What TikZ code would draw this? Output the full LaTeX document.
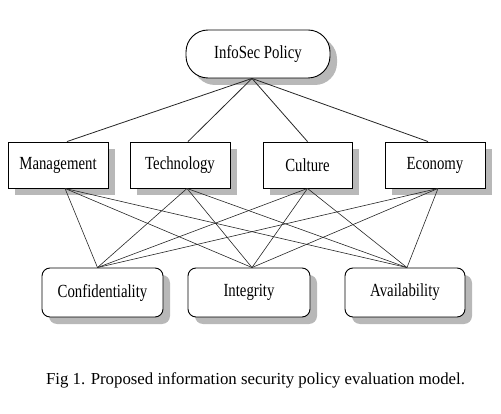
\documentclass[tikz,border=0pt]{standalone}
\usepackage{fontspec}
\setmainfont{Liberation Serif}
\newfontfamily\boxfont[FakeStretch=0.8]{Liberation Serif}
\usetikzlibrary{shadows}

\tikzset{
	box/.style={draw, line width=0.9pt, fill=white, inner sep=0pt,
		font=\boxfont\fontsize{18.5}{20}\selectfont,
		drop shadow={shadow xshift=7pt, shadow yshift=-7pt, fill=black!28, opacity=1}},
	link/.style={line width=0.6pt, draw=black!85}
}

\begin{document}
\begin{tikzpicture}[x=1pt,y=-1pt]
\useasboundingbox (0,0) rectangle (501,414);

% top
\node[box, rounded corners=22pt, minimum width=144pt, minimum height=48pt] (policy) at (258,54) {InfoSec Policy};

% middle row
\node[box, minimum width=100pt, minimum height=46pt] (mgmt) at (58,165) {Management};
\node[box, minimum width=100pt, minimum height=46pt] (tech) at (180,165) {Technology};
\node[box, minimum width=89pt, minimum height=46pt] (cult) at (307.5,165) {Culture};
\node[box, minimum width=100pt, minimum height=46pt] (econ) at (435,165) {Economy};

% bottom row
\node[box, rounded corners=8pt, minimum width=121pt, minimum height=49pt] (conf) at (102.5,292.5) {Confidentiality};
\node[box, rounded corners=8pt, minimum width=122pt, minimum height=49pt] (integ) at (249,292.5) {Integrity};
\node[box, rounded corners=8pt, minimum width=120pt, minimum height=49pt] (avail) at (405,292.5) {Availability};

\foreach \m/\dt in {mgmt/9, tech/8, cult/0, econ/-7}
	\draw[link, line width=0.8pt] ([xshift=-6pt]policy.south) -- ([xshift=\dt pt]\m.north);

\foreach \m/\db in {mgmt/7, tech/7, cult/0, econ/3}
	\foreach \b/\dc in {conf/-5, integ/3, avail/2}
		\draw[link] ([xshift=\db pt]\m.south) -- ([xshift=\dc pt]\b.north);

\node[anchor=base, font=\fontsize{16.8}{18}\selectfont] (caption) at (255.5,384) {Fig 1. Proposed information security policy evaluation model.};
\end{tikzpicture}
\end{document}
